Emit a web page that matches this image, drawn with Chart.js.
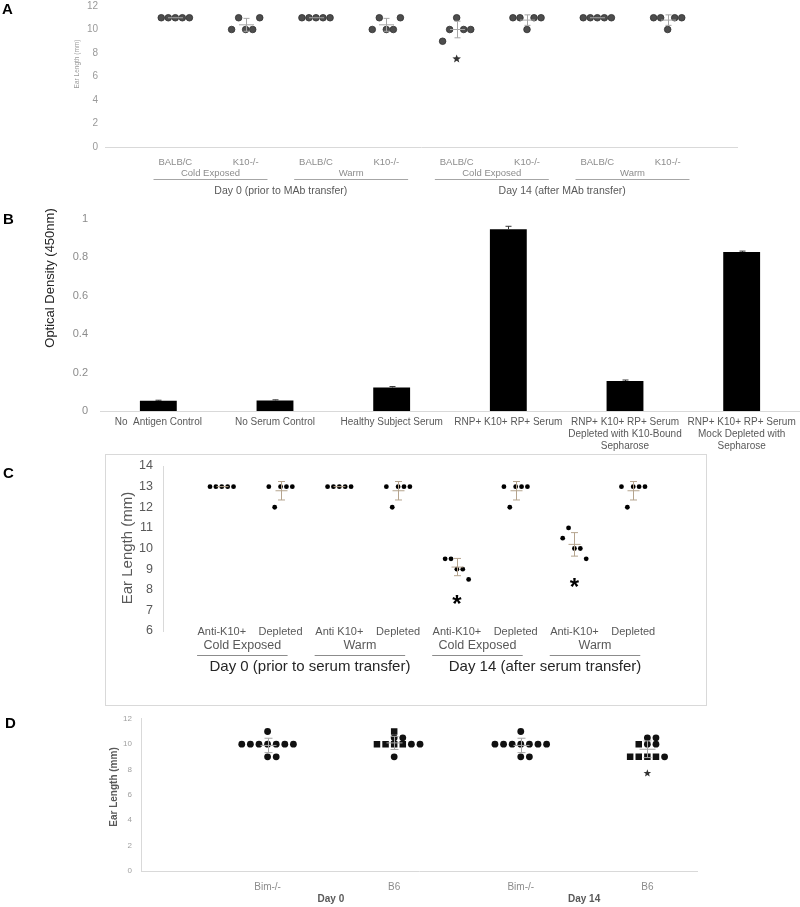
<!DOCTYPE html>
<html>
<head>
<meta charset="utf-8">
<script src="https://cdn.jsdelivr.net/npm/chart.js@4.4.1/dist/chart.umd.min.js"></script>
<style>
  html, body { margin: 0; padding: 0; background: #fff; }
  #page { position: relative; width: 800px; height: 907px; overflow: hidden; font-family: "Liberation Sans", Arial, sans-serif; }
  canvas { position: absolute; left: 0; }
  .letter { position: absolute; font-weight: bold; font-size: 15px; line-height: 15px; color: #000; }
  #frameC { position: absolute; left: 105px; top: 454px; width: 600px; height: 250px; border: 1px solid #d9d9d9; }
</style>
</head>
<body>
<div id="page">
  <div id="frameC"></div>
  <canvas id="chartA" width="800" height="225" style="top:-20px"></canvas>
  <canvas id="chartB" width="800" height="255" style="top:200px"></canvas>
  <canvas id="chartC" width="800" height="270" style="top:445px"></canvas>
  <canvas id="chartD" width="800" height="202" style="top:705px"></canvas>
  <div class="letter" style="left:2px;top:1px">A</div>
  <div class="letter" style="left:3px;top:211px">B</div>
  <div class="letter" style="left:3px;top:465px">C</div>
  <div class="letter" style="left:5px;top:715px">D</div>
</div>
<script>
const FONT = '"Liberation Sans", Arial, sans-serif';

// ---- Panel A: ear length after MAb transfer (points listed left to right)
const catsA = ["BALB/C", "K10-/-", "BALB/C", "K10-/-", "BALB/C", "K10-/-", "BALB/C", "K10-/-"];
const earA = [
  [11, 11, 11, 11, 11],
  [10, 11, 10, 10, 11],
  [11, 11, 11, 11, 11],
  [10, 11, 10, 10, 11],
  [9, 10, 11, 10, 10],
  [11, 11, 10, 11, 11],
  [11, 11, 11, 11, 11],
  [11, 11, 10, 11, 11]
];
const groupsA = ["Cold Exposed", "Warm", "Cold Exposed", "Warm"];
const daysA = ["Day 0 (prior to MAb transfer)", "Day 14 (after MAb transfer)"];
const starCatA = [5];
const starValA = [7.5];

// ---- Panel B: optical density
const catsB = [
  ["No  Antigen Control"],
  ["No Serum Control"],
  ["Healthy Subject Serum"],
  ["RNP+ K10+ RP+ Serum"],
  ["RNP+ K10+ RP+ Serum", "Depleted with K10-Bound", "Sepharose"],
  ["RNP+ K10+ RP+ Serum", "Mock Depleted with", "Sepharose"]
];
const odB = [0.053, 0.055, 0.122, 0.945, 0.156, 0.826];
const errB = [0.003, 0.003, 0.005, 0.015, 0.005, 0.005];

// ---- Panel C: ear length after serum transfer
const catsC = ["Anti-K10+", "Depleted", "Anti K10+", "Depleted", "Anti-K10+", "Depleted", "Anti-K10+", "Depleted"];
const earC = [
  [13, 13, 13, 13, 13],
  [13, 12, 13, 13, 13],
  [13, 13, 13, 13, 13],
  [13, 12, 13, 13, 13],
  [9.5, 9.5, 9, 9, 8.5],
  [13, 12, 13, 13, 13],
  [10.5, 11, 10, 10, 9.5],
  [13, 12, 13, 13, 13]
];
const groupsC = ["Cold Exposed", "Warm", "Cold Exposed", "Warm"];
const daysC = ["Day 0 (prior to serum transfer)", "Day 14 (after serum transfer)"];
const starCatC = [5, 7];
const starValC = [7.55, 8.4];

// ---- Panel D: Bim-/- vs B6 (circles and squares)
const catsD = ["Bim-/-", "B6", "Bim-/-", "B6"];
const daysD = ["Day 0", "Day 14"];
const circlesD = [
  [10, 10, 10, 10, 9, 10, 9, 10, 10, 11],
  [9, 10.5, 10.5, 10, 10],
  [10, 10, 10, 10, 9, 10, 9, 10, 10, 11],
  [10.5, 10.5, 10, 10, 9]
];
const squaresD = [
  [],
  [10, 11, 10, 10, 10],
  [],
  [10, 9, 9, 9, 9]
];
const starCatD = [4];
const starValD = [7.7];

// points spread across the group in the order they are listed
function spread(groups, step) {
  const pts = [];
  groups.forEach((vals, g) => {
    vals.forEach((v, i) => pts.push({ x: g + 1 + (i - (vals.length - 1) / 2) * step, y: v }));
  });
  return pts;
}

// equal values share a row, filled outwards from the group centre
function rows(circles, squares, step) {
  const out = { c: [], s: [] };
  circles.forEach((_, g) => {
    const all = squares[g].map(v => ({ v, t: "s" })).concat(circles[g].map(v => ({ v, t: "c" })));
    const byVal = {};
    all.forEach(p => (byVal[p.v] = byVal[p.v] || []).push(p));
    Object.values(byVal).forEach(row => {
      const cols = [0, 1, -1, 2, -2, 3, -3, 4, -4].slice(0, row.length).sort((a, b) => a - b);
      row.forEach((p, i) => out[p.t].push({ x: g + 1 + cols[i] * step, y: p.v }));
    });
  });
  return out;
}

function stats(vals) {
  const n = vals.length;
  const m = vals.reduce((a, b) => a + b, 0) / n;
  const sd = n > 1 ? Math.sqrt(vals.reduce((a, b) => a + (b - m) ** 2, 0) / (n - 1)) : 0;
  return { m, sd };
}

function txt(ctx, s, x, y, font, color, align = "center") {
  ctx.font = font;
  ctx.fillStyle = color;
  ctx.textAlign = align;
  ctx.textBaseline = "middle";
  ctx.fillText(s, x, y);
}
function vtxt(ctx, s, x, y, font, color) {
  ctx.save();
  ctx.translate(x, y);
  ctx.rotate(-Math.PI / 2);
  txt(ctx, s, 0, 0, font, color);
  ctx.restore();
}
function hline(ctx, x1, x2, y, color) {
  ctx.save();
  ctx.strokeStyle = color;
  ctx.lineWidth = 1;
  ctx.beginPath();
  ctx.moveTo(x1, Math.round(y) + 0.5);
  ctx.lineTo(x2, Math.round(y) + 0.5);
  ctx.stroke();
  ctx.restore();
}
function star(ctx, x, y, r, color) {
  ctx.save();
  ctx.fillStyle = color;
  ctx.beginPath();
  for (let i = 0; i < 10; i++) {
    const a = -Math.PI / 2 + i * Math.PI / 5;
    const rr = i % 2 ? r * 0.42 : r;
    ctx.lineTo(x + rr * Math.cos(a), y + rr * Math.sin(a));
  }
  ctx.closePath();
  ctx.fill();
  ctx.restore();
}

function meanSd(groups, color, meanHalf, capHalf) {
  return {
    id: "meanSd",
    afterDatasetsDraw(chart) {
      const { ctx, scales: { x, y } } = chart;
      ctx.save();
      ctx.strokeStyle = color;
      ctx.lineWidth = 1;
      groups.forEach((vals, g) => {
        const { m, sd } = stats(vals);
        const px = Math.round(x.getPixelForValue(g + 1)) + 0.5;
        const ym = y.getPixelForValue(m), yt = y.getPixelForValue(m + sd), yb = y.getPixelForValue(m - sd);
        ctx.beginPath();
        ctx.moveTo(px - meanHalf, ym); ctx.lineTo(px + meanHalf, ym);
        if (sd > 0) {
          ctx.moveTo(px, yt); ctx.lineTo(px, yb);
          ctx.moveTo(px - capHalf, yt); ctx.lineTo(px + capHalf, yt);
          ctx.moveTo(px - capHalf, yb); ctx.lineTo(px + capHalf, yb);
        }
        ctx.stroke();
      });
      ctx.restore();
    }
  };
}

function yAxis(min, max, step, width, pad, color, size, border) {
  return {
    min, max,
    afterFit: s => { s.width = width; },
    grid: { display: false, drawTicks: false },
    border: { display: !!border, color: border || "#d9d9d9" },
    ticks: { stepSize: step, padding: pad, color, font: { family: FONT, size }, callback: v => String(+v.toFixed(2)) }
  };
}

const base = {
  responsive: false,
  animation: false,
  events: [],
  plugins: { legend: { display: false }, tooltip: { enabled: false } }
};

// ---------------- A
new Chart(document.getElementById("chartA"), {
  type: "scatter",
  data: {
    datasets: [{
      data: spread(earA, 0.1),
      pointRadius: 3.3,
      pointBackgroundColor: "#4d4d4d",
      pointBorderColor: "#2e2e2e",
      pointBorderWidth: 0.8
    }]
  },
  options: {
    ...base,
    layout: { padding: { top: 26, bottom: 58, left: 0, right: 62 } },
    scales: {
      x: { type: "linear", display: false, min: 0, max: 9 },
      y: yAxis(0, 12, 2, 105, 7, "#9a9a9a", 10)
    }
  },
  plugins: [meanSd(earA, "#a6a6a6", 7.5, 3), {
    id: "labelsA",
    afterDraw(chart) {
      const { ctx, chartArea: ca, scales: { x, y } } = chart;
      hline(ctx, ca.left, ca.right, ca.bottom, "#d9d9d9");
      vtxt(ctx, "Ear Length (mm)", 77, 84, `6.5px ${FONT}`, "#9a9a9a");
      catsA.forEach((c, i) => txt(ctx, c, x.getPixelForValue(i + 1), ca.bottom + 15, `9.5px ${FONT}`, "#8c8c8c"));
      groupsA.forEach((g, i) => {
        const a = x.getPixelForValue(2 * i + 1 - 0.31), b = x.getPixelForValue(2 * i + 2 + 0.31);
        txt(ctx, g, (a + b) / 2, ca.bottom + 26, `9.5px ${FONT}`, "#8c8c8c");
        hline(ctx, a, b, ca.bottom + 32, "#a6a6a6");
      });
      daysA.forEach((d, i) => txt(ctx, d, x.getPixelForValue(4 * i + 2.5), ca.bottom + 44, `10.5px ${FONT}`, "#595959"));
      starCatA.forEach((c, i) => star(ctx, x.getPixelForValue(c), y.getPixelForValue(starValA[i]), 4.5, "#333"));
    }
  }]
});

// ---------------- B
new Chart(document.getElementById("chartB"), {
  type: "bar",
  data: {
    labels: catsB,
    datasets: [{ data: odB, backgroundColor: "#000", barPercentage: 0.316, categoryPercentage: 1 }]
  },
  options: {
    ...base,
    layout: { padding: { top: 17, bottom: 44, left: 0, right: 0 } },
    scales: {
      x: { display: false },
      y: yAxis(0, 1, 0.2, 100, 12, "#8c8c8c", 11)
    }
  },
  plugins: [{
    id: "labelsB",
    afterDraw(chart) {
      const { ctx, chartArea: ca, scales: { x, y } } = chart;
      hline(ctx, ca.left, ca.right, ca.bottom, "#d9d9d9");
      vtxt(ctx, "Optical Density (450nm)", 50, 78, `13px ${FONT}`, "#262626");
      catsB.forEach((lines, i) => {
        lines.forEach((l, j) => txt(ctx, l, x.getPixelForValue(i), ca.bottom + 11 + j * 12, `10px ${FONT}`, "#595959"));
      });
      ctx.save();
      ctx.strokeStyle = "#333";
      ctx.lineWidth = 1;
      odB.forEach((v, i) => {
        const px = Math.round(x.getPixelForValue(i)) + 0.5;
        const yt = y.getPixelForValue(v + errB[i]);
        ctx.beginPath();
        ctx.moveTo(px, y.getPixelForValue(v)); ctx.lineTo(px, yt);
        ctx.moveTo(px - 3, yt); ctx.lineTo(px + 3, yt);
        ctx.stroke();
      });
      ctx.restore();
    }
  }]
});

// ---------------- C
new Chart(document.getElementById("chartC"), {
  type: "scatter",
  data: {
    datasets: [{
      data: spread(earC, 0.1),
      pointRadius: 2.4,
      pointBackgroundColor: "#000",
      pointBorderWidth: 0
    }]
  },
  options: {
    ...base,
    layout: { padding: { top: 21, bottom: 84, left: 0, right: 108 } },
    scales: {
      x: { type: "linear", display: false, min: 0, max: 9 },
      y: yAxis(6, 14, 1, 163, 10, "#595959", 12.5, "#d9d9d9")
    }
  },
  plugins: [meanSd(earC, "#b5a48e", 6, 3.5), {
    id: "labelsC",
    afterDraw(chart) {
      const { ctx, chartArea: ca, scales: { x, y } } = chart;
      vtxt(ctx, "Ear Length (mm)", 128, 103, `15px ${FONT}`, "#595959");
      catsC.forEach((c, i) => txt(ctx, c, x.getPixelForValue(i + 1), ca.bottom + 1, `11px ${FONT}`, "#595959"));
      groupsC.forEach((g, i) => {
        const a = x.getPixelForValue(2 * i + 1 - 0.42), b = x.getPixelForValue(2 * i + 2 + 0.12);
        txt(ctx, g, (a + b) / 2, ca.bottom + 15, `12.5px ${FONT}`, "#595959");
        hline(ctx, a, b, ca.bottom + 24, "#8c8c8c");
      });
      daysC.forEach((d, i) => txt(ctx, d, x.getPixelForValue(4 * i + 2.5), ca.bottom + 36, `15px ${FONT}`, "#262626"));
      starCatC.forEach((c, i) => {
        ctx.font = `bold 24px ${FONT}`;
        ctx.fillStyle = "#000";
        ctx.textAlign = "center";
        ctx.textBaseline = "alphabetic";
        ctx.fillText("*", x.getPixelForValue(c), y.getPixelForValue(starValC[i]) + 0.56 * 24);
      });
    }
  }]
});

// ---------------- D
const ptsD = rows(circlesD, squaresD, 0.068);
const allD = circlesD.map((c, g) => c.concat(squaresD[g]));
new Chart(document.getElementById("chartD"), {
  type: "scatter",
  data: {
    datasets: [
      { data: ptsD.c, pointStyle: "circle", pointRadius: 3.4, pointBackgroundColor: "#111", pointBorderWidth: 0 },
      { data: ptsD.s, pointStyle: "rect", pointRadius: 4.6, pointBackgroundColor: "#111", pointBorderWidth: 0 }
    ]
  },
  options: {
    ...base,
    layout: { padding: { top: 12, bottom: 36, left: 0, right: 102 } },
    scales: {
      x: { type: "linear", display: false, min: 0, max: 4.4 },
      y: yAxis(0, 12, 2, 141, 9, "#a0a0a0", 8, "#d9d9d9")
    }
  },
  plugins: [meanSd(allD, "#a6a6a6", 8, 4), {
    id: "labelsD",
    afterDraw(chart) {
      const { ctx, chartArea: ca, scales: { x, y } } = chart;
      hline(ctx, ca.left, ca.right, ca.bottom, "#d9d9d9");
      vtxt(ctx, "Ear Length (mm)", 114, 82, `bold 10px ${FONT}`, "#595959");
      catsD.forEach((c, i) => txt(ctx, c, x.getPixelForValue(i + 1), ca.bottom + 16, `10px ${FONT}`, "#8c8c8c"));
      daysD.forEach((d, i) => txt(ctx, d, x.getPixelForValue(2 * i + 1.5), ca.bottom + 28, `bold 10px ${FONT}`, "#595959"));
      starCatD.forEach((c, i) => star(ctx, x.getPixelForValue(c), y.getPixelForValue(starValD[i]), 4, "#333"));
    }
  }]
});
</script>
</body>
</html>
